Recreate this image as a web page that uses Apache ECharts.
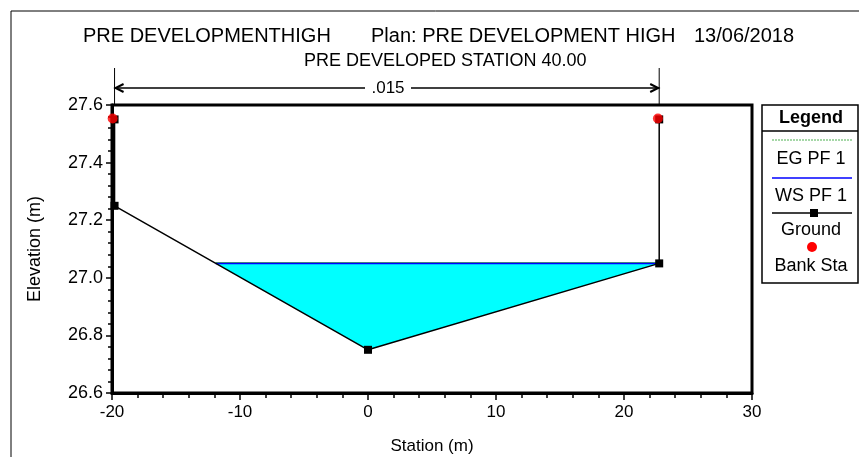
<!DOCTYPE html>
<html>
<head>
<meta charset="utf-8">
<script src="https://cdn.jsdelivr.net/npm/echarts@6/dist/echarts.min.js"></script>
<style>
  html, body { margin: 0; padding: 0; background: #fff; }
  #xs { width: 859px; height: 457px; }
</style>
</head>
<body>
<div id="xs"></div>
<script>
// cross section data
var groundStation = [-19.8, -19.8, 0, 22.75, 22.75];
var groundElev = [27.55, 27.25, 26.75, 27.05, 27.55];
var bankStation = [-19.95, 22.65];
var bankElev = [27.553, 27.553];
var wsStation = [-11.9, 22.75];
var wsElev = [27.05, 27.05];
var egElev = [27.053, 27.053];
var waterStation = [-11.9, 0, 22.75];
var waterElev = [27.05, 26.75, 27.05];
var nStations = [-19.8, 22.75];
var nLabel = '.015';
var xTicks = [-20, -10, 0, 10, 20, 30];
var yTicks = [26.6, 26.8, 27.0, 27.2, 27.4, 27.6];
var legendNames = ['EG PF 1', 'WS PF 1', 'Ground', 'Bank Sta'];

function pairs(xs, ys) {
    var out = [];
    for (var i = 0; i < xs.length; i++) out.push([xs[i], ys[i]]);
    return out;
}

var font = 'Liberation Sans, Arial, sans-serif';

var chart = echarts.init(document.getElementById('xs'));
var titleStyle = { fontFamily: font, fontSize: 20, fontWeight: 'normal', color: '#000' };
var option = {
    animation: false,
    backgroundColor: '#fff',
    title: [
        { text: 'PRE DEVELOPMENTHIGH', left: 78, top: 21, textStyle: titleStyle },
        { text: 'Plan: PRE DEVELOPMENT HIGH', left: 366, top: 21, textStyle: titleStyle },
        { text: '13/06/2018', left: 689, top: 21, textStyle: titleStyle },
        { text: 'PRE DEVELOPED STATION 40.00', left: 299, top: 47, textStyle: { fontFamily: font, fontSize: 18, fontWeight: 'normal', color: '#000' } }
    ],
    grid: {
        left: 112, right: 107, top: 105, bottom: 64,
        outerBoundsMode: 'none',
        show: true, borderColor: '#000', borderWidth: 3
    },
    xAxis: {
        type: 'value',
        min: xTicks[0], max: xTicks[xTicks.length - 1], interval: 10,
        name: 'Station (m)', nameLocation: 'middle', nameGap: 45,
        nameTextStyle: { fontFamily: font, fontSize: 17, color: '#000' },
        axisLine: { show: true, onZero: false, lineStyle: { color: '#000', width: 3 } },
        axisTick: { show: true, length: 7, lineStyle: { color: '#000', width: 1.5 } },
        minorTick: { show: true, splitNumber: 5, length: 5, lineStyle: { color: '#000', width: 1.5 } },
        axisLabel: { fontFamily: font, fontSize: 17, color: '#000', margin: 11 },
        splitLine: { show: false }
    },
    yAxis: {
        type: 'value',
        min: yTicks[0], max: yTicks[yTicks.length - 1], interval: 0.2,
        name: 'Elevation (m)', nameLocation: 'middle', nameGap: 68,
        nameTextStyle: { fontFamily: font, fontSize: 18, color: '#000' },
        axisLine: { show: true, onZero: false, lineStyle: { color: '#000', width: 3 } },
        axisTick: { show: true, length: 6, lineStyle: { color: '#000', width: 1.5 } },
        minorTick: { show: true, splitNumber: 5, length: 4, lineStyle: { color: '#000', width: 1.5 } },
        axisLabel: {
            fontFamily: font, fontSize: 18, color: '#000', margin: 9, padding: [8, 0, 0, 0],
            formatter: function (v) { return v.toFixed(1); }
        },
        splitLine: { show: false }
    },
    series: [
        {
            name: 'water',
            type: 'custom',
            silent: true,
            z: 1,
            data: pairs(waterStation, waterElev),
            renderItem: function (params, api) {
                if (params.dataIndex !== 0) return null;
                var pts = [];
                for (var i = 0; i < waterStation.length; i++) {
                    pts.push(api.coord([waterStation[i], waterElev[i]]));
                }
                return { type: 'polygon', shape: { points: pts }, style: { fill: '#00ffff', stroke: null } };
            }
        },
        {
            name: legendNames[0], type: 'line', z: 2,
            data: pairs(wsStation, egElev),
            showSymbol: false, symbol: 'none',
            lineStyle: { color: '#4caf50', width: 1 }
        },
        {
            name: legendNames[1], type: 'line', z: 3,
            data: pairs(wsStation, wsElev),
            showSymbol: false, symbol: 'none',
            lineStyle: { color: '#0000ff', width: 1.5 }
        },
        {
            name: legendNames[2], type: 'line', z: 4,
            data: pairs(groundStation, groundElev),
            symbol: 'rect', symbolSize: 8,
            itemStyle: { color: '#000' },
            lineStyle: { color: '#000', width: 1.5 }
        },
        {
            name: legendNames[3], type: 'scatter', z: 5,
            data: pairs(bankStation, bankElev),
            symbol: 'circle', symbolSize: 10,
            itemStyle: { color: '#ff0000' }
        }
    ]
};
chart.setOption(option);

// Manning's n bracket above the plot and the legend box
var xa = chart.convertToPixel({ gridIndex: 0 }, [nStations[0], 27.6])[0];
var xb = chart.convertToPixel({ gridIndex: 0 }, [nStations[1], 27.6])[0];
var arrowY = 88;
var lblX = 388;
var gfx = [
    { type: 'rect', shape: { x: 11, y: 11, width: 900, height: 500 }, style: { fill: null, stroke: '#000', lineWidth: 1 } },
    { type: 'line', shape: { x1: xa, y1: 68, x2: xa, y2: 104 }, style: { stroke: '#000', lineWidth: 1 } },
    { type: 'line', shape: { x1: xb, y1: 68, x2: xb, y2: 104 }, style: { stroke: '#000', lineWidth: 1 } },
    { type: 'line', shape: { x1: xa, y1: arrowY, x2: lblX - 23, y2: arrowY }, style: { stroke: '#000', lineWidth: 1.5 } },
    { type: 'line', shape: { x1: lblX + 23, y1: arrowY, x2: xb, y2: arrowY }, style: { stroke: '#000', lineWidth: 1.5 } },
    { type: 'polyline', shape: { points: [[xa + 9, arrowY - 4], [xa + 1, arrowY], [xa + 9, arrowY + 4]] }, style: { stroke: '#000', lineWidth: 2, fill: null } },
    { type: 'polyline', shape: { points: [[xb - 9, arrowY - 4], [xb - 1, arrowY], [xb - 9, arrowY + 4]] }, style: { stroke: '#000', lineWidth: 2, fill: null } },
    { type: 'text', x: lblX, y: arrowY, style: { text: nLabel, font: '17px ' + font, fill: '#000', align: 'center', verticalAlign: 'middle' } }
];

var lgX = 762, lgY = 105, lgW = 96, lgH = 178;
var lgC = lgX + lgW / 2 + 1;
var lgFont = '18px ' + font;
gfx.push(
    { type: 'rect', shape: { x: lgX, y: lgY, width: lgW, height: lgH }, style: { fill: '#fff', stroke: '#000', lineWidth: 1.5 } },
    { type: 'line', shape: { x1: lgX, y1: 131, x2: lgX + lgW, y2: 131 }, style: { stroke: '#000', lineWidth: 1.5 } },
    { type: 'text', x: lgC, y: 118, style: { text: 'Legend', font: 'bold 18px ' + font, fill: '#000', align: 'center', verticalAlign: 'middle' } },
    { type: 'line', shape: { x1: 772, y1: 140, x2: 852, y2: 140 }, style: { stroke: '#4caf50', lineWidth: 1, lineDash: [2, 1] } },
    { type: 'text', x: lgC, y: 159, style: { text: legendNames[0], font: lgFont, fill: '#000', align: 'center', verticalAlign: 'middle' } },
    { type: 'line', shape: { x1: 772, y1: 178, x2: 852, y2: 178 }, style: { stroke: '#0000ff', lineWidth: 1.5 } },
    { type: 'text', x: lgC, y: 196, style: { text: legendNames[1], font: lgFont, fill: '#000', align: 'center', verticalAlign: 'middle' } },
    { type: 'line', shape: { x1: 772, y1: 213, x2: 852, y2: 213 }, style: { stroke: '#000', lineWidth: 1.5 } },
    { type: 'rect', shape: { x: 810, y: 209, width: 8, height: 8 }, style: { fill: '#000' } },
    { type: 'text', x: lgC, y: 230, style: { text: legendNames[2], font: lgFont, fill: '#000', align: 'center', verticalAlign: 'middle' } },
    { type: 'circle', shape: { cx: 812, cy: 247, r: 5 }, style: { fill: '#ff0000' } },
    { type: 'text', x: lgC, y: 266, style: { text: legendNames[3], font: lgFont, fill: '#000', align: 'center', verticalAlign: 'middle' } }
);
chart.setOption({ graphic: gfx });
</script>
</body>
</html>
